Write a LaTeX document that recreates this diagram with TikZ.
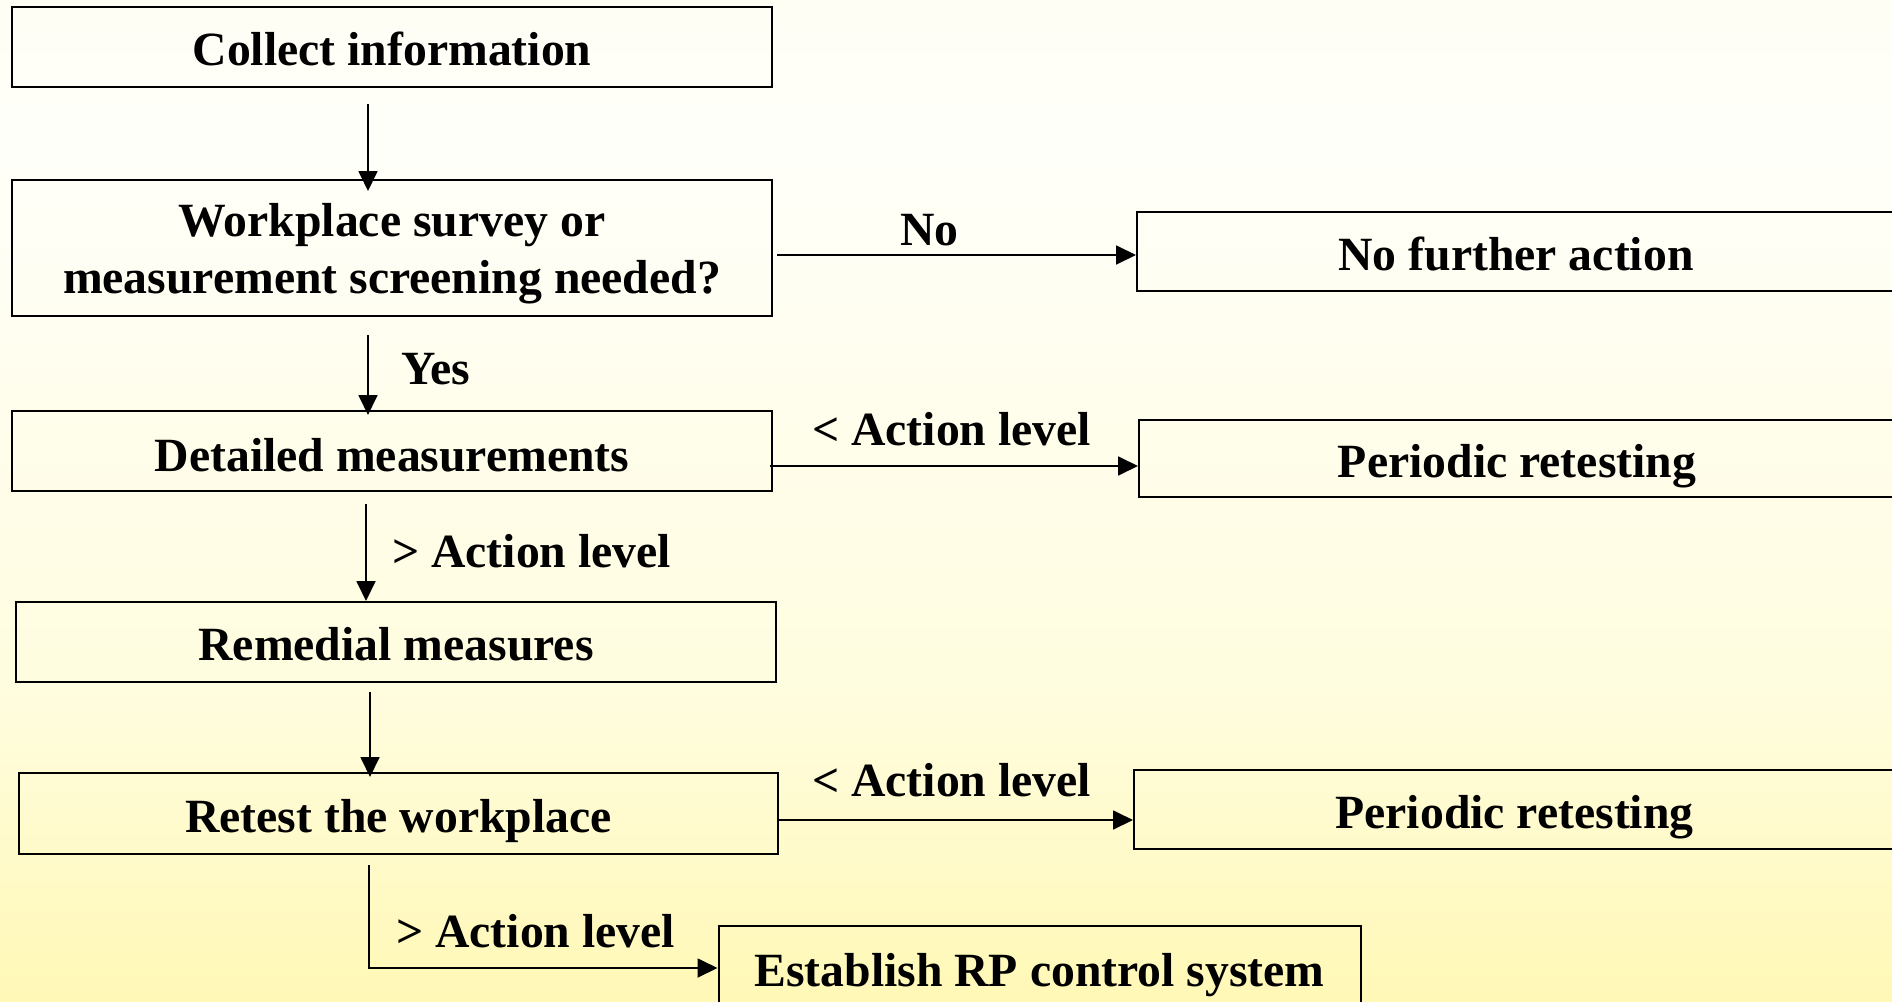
\documentclass[tikz,border=0pt]{standalone}
\usepackage{fontspec}
\setmainfont{Liberation Serif}
\usetikzlibrary{arrows.meta,calc}
\pgfdeclareverticalshading{bgshade}{100bp}{%
 rgb(0bp)=(1,0.96,0.52);
 rgb(18bp)=(1,0.965,0.64);
 rgb(40bp)=(1,0.99,0.87);
 rgb(68bp)=(1,1,0.98);
 rgb(100bp)=(1,0.98,0.882)}
\begin{document}
\begin{tikzpicture}[x=1pt,y=-1pt,
  boxbase/.style={draw=black, line width=2pt, rectangle, inner sep=0pt,
    font=\fontsize{47.7}{57}\selectfont\bfseries},
  box/.style={boxbase, text height=37pt, text depth=0pt},
  lbl/.style={inner sep=0pt, anchor=base west, font=\fontsize{47.7}{57}\selectfont\bfseries},
  arr/.style={line width=1.8pt, -{Triangle[length=20pt,width=19pt]}}]
\useasboundingbox (0,0) rectangle (1892,1001);
\shade[shading=bgshade] (0,0) rectangle (1892,1001);

\node[box, minimum width=760pt, minimum height=80pt] (b1) at (392,47) {Collect information};
\node[boxbase, align=center, minimum width=760pt, minimum height=136pt] (b2) at (392,248)
  {\rule{0pt}{44pt}Workplace survey or\\measurement screening needed?};
\node[box, minimum width=758pt, minimum height=79pt] (b3) at (1516,251.5) {No further action};
\node[box, minimum width=760pt, minimum height=80pt, text height=41pt] (b4) at (392,451) {Detailed measurements};
\node[box, minimum width=756pt, minimum height=77pt] (b5) at (1517,458.5) {Periodic retesting};
\node[box, minimum width=760pt, minimum height=80pt] (b6) at (396,642) {Remedial measures};
\node[box, minimum width=759pt, minimum height=81pt] (b7) at (398.5,813.5) {Retest the workplace};
\node[box, minimum width=761pt, minimum height=79pt] (b8) at (1514.5,809.5) {Periodic retesting};
\node[box, minimum width=642pt, minimum height=84pt] (b9) at (1039.5,968) {Establish RP control system};

\node[lbl] (lno) at (900,245) {No};
\node[lbl] (lyes) at (401,384) {Yes};
\node[lbl] (l1) at (812,445) {< Action level};
\node[lbl] (l2) at (392,567) {> Action level};
\node[lbl] (l3) at (812,796) {< Action level};
\node[lbl] (l4) at (396,947) {> Action level};

\draw[arr, shorten >=-12pt] ([xshift=-24pt,yshift=-16pt]b1.south) -- ([xshift=-24pt]b2.north);
\draw[arr] ([xshift=4pt,yshift=-7pt]b2.east) coordinate (s1) -- (s1 -| b3.west);
\draw[arr, shorten >=-5pt] ([xshift=-24pt,yshift=-18pt]b2.south) -- ([xshift=-24pt]b4.north);
\draw[arr] ([xshift=-3pt,yshift=-15pt]b4.east) coordinate (s2) -- (s2 -| b5.west);
\draw[arr] ([xshift=-26pt,yshift=-12pt]b4.south) -- ([xshift=-30pt]b6.north);
\draw[arr, shorten >=-5pt] ([xshift=-26pt,yshift=-9pt]b6.south) -- ([xshift=-28.5pt]b7.north);
\draw[arr] ([yshift=-6.5pt]b7.east) coordinate (s3) -- (s3 -| b8.west);
\draw[arr] ([xshift=-29.5pt,yshift=-10pt]b7.south) |- (b9.west);
\end{tikzpicture}
\end{document}
